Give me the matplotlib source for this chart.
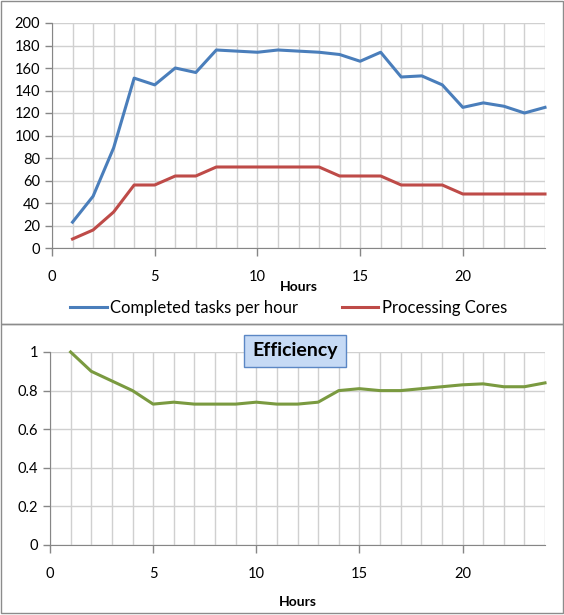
import matplotlib.pyplot as plt
from matplotlib.patches import Rectangle, FancyBboxPatch
from matplotlib.ticker import MultipleLocator

hours = list(range(1, 25))
completed = [23, 46, 89, 151, 145, 160, 156, 176, 175, 174, 176, 175,
             174, 172, 166, 174, 152, 153, 145, 125, 129, 126, 120, 125]
cores = [8, 16, 32, 56, 56, 64, 64, 72, 72, 72, 72, 72,
         72, 64, 64, 64, 56, 56, 56, 48, 48, 48, 48, 48]
efficiency = [1.0, 0.9, 0.85, 0.8, 0.73, 0.74, 0.73, 0.73, 0.73, 0.74, 0.73, 0.73,
              0.74, 0.80, 0.81, 0.80, 0.80, 0.81, 0.82, 0.83, 0.835, 0.82, 0.82, 0.84]

plt.rcParams['font.family'] = ['Lato', 'DejaVu Sans']

fig = plt.figure(figsize=(5.64, 6.15), dpi=100)
W, H = 564, 615

def fx(px):
    return px / W

def fy(py):
    return 1 - py / H

# panel borders
fig.patches.append(Rectangle((fx(1), fy(324)), fx(562), 323 / H, transform=fig.transFigure,
                             fill=False, edgecolor='#8c8c8c', lw=1))
fig.patches.append(Rectangle((fx(1), fy(613)), fx(562), 289 / H, transform=fig.transFigure,
                             fill=False, edgecolor='#8c8c8c', lw=1))

grid_c = '#d0d0d0'
axis_c = '#868686'
tick_kw = dict(labelsize=10.5, colors=axis_c, labelcolor='black', length=5, width=1)


def style(ax, ymax, ystep):
    ax.set_xlim(0, 24)
    ax.set_ylim(0, ymax)
    ax.xaxis.set_major_locator(MultipleLocator(5))
    ax.xaxis.set_minor_locator(MultipleLocator(1))
    ax.yaxis.set_major_locator(MultipleLocator(ystep))
    ax.grid(True, which='minor', axis='x', color=grid_c, lw=1)
    ax.grid(True, which='major', axis='x', color=grid_c, lw=1)
    ax.grid(True, which='major', axis='y', color=grid_c, lw=1)
    ax.set_axisbelow(True)
    for s in ['top', 'right']:
        ax.spines[s].set_visible(False)
    for s in ['left', 'bottom']:
        ax.spines[s].set_color(axis_c)
    ax.tick_params(axis='both', which='major', direction='out', **tick_kw)
    ax.tick_params(axis='x', which='minor', length=0)
    ax.tick_params(axis='x', which='major', length=6, pad=10)


# top chart
ax1 = fig.add_axes([fx(52), fy(248), fx(545) - fx(52), fy(23) - fy(248)])
style(ax1, 200, 20)
ax1.plot(hours, completed, color='#4A7EBB', lw=2.2, label='Completed tasks per hour', clip_on=False)
ax1.plot(hours, cores, color='#BE4B48', lw=2.2, label='Processing Cores', clip_on=False)
ax1.set_xlabel('Hours', fontsize=10, fontweight='bold', labelpad=-2)
ax1.legend(loc='upper center', bbox_to_anchor=(0.48, -0.165), ncol=2, frameon=False,
           fontsize=12, handlelength=2.2, handletextpad=0.2, columnspacing=2.6)

# bottom chart
ax2 = fig.add_axes([fx(50), fy(545), fx(545) - fx(50), fy(352) - fy(545)])
style(ax2, 1, 0.2)
ax2.yaxis.set_major_formatter(plt.FuncFormatter(lambda v, p: '%g' % round(v, 1)))
ax2.plot(hours, efficiency, color='#7A9A40', lw=2.2, clip_on=False)
ax2.set_xlabel('Hours', fontsize=10, fontweight='bold', labelpad=11)

# title box
fig.patches.append(FancyBboxPatch((fx(244), fy(367)), fx(102), 32 / H, transform=fig.transFigure,
                                  boxstyle='square,pad=0', facecolor='#c6daf5', edgecolor='#5b87c5',
                                  lw=1, zorder=5))
fig.text(fx(295), fy(351), 'Efficiency', ha='center', va='center', fontsize=14,
         fontweight='bold', zorder=6)

fig.savefig('out.png', dpi=100)
